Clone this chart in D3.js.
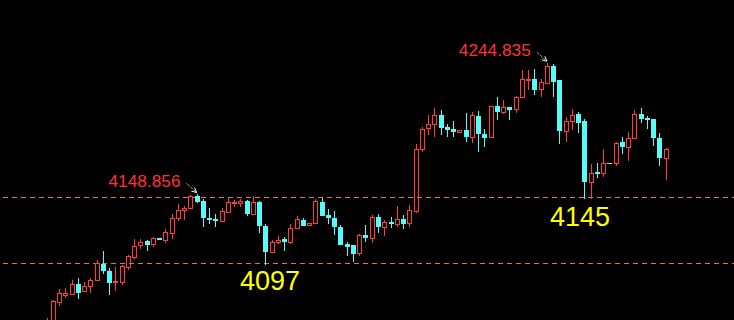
<!DOCTYPE html>
<html>
<head>
<meta charset="utf-8">
<script src="https://cdn.jsdelivr.net/npm/d3@7"></script>
<style>
  html, body { margin: 0; padding: 0; background: #000; }
  svg { display: block; }
</style>
</head>
<body>
<div id="chart"></div>
<script>
// candle data, one entry per bar
const opens = [
  4052, 4049.5, 4070.2, 4075.4, 4076.0, 4082.9, 4077.8, 4081.9, 4086.0, 4097.9,
  4092.6, 4084.4, 4084.8, 4095.8, 4102.8, 4111.4, 4114.5, 4112.1, 4116.5, 4115.5,
  4120.2, 4131.1, 4137.0, 4138.4, 4147.4, 4143.8, 4131.1, 4130.6, 4129.4, 4136.0,
  4142.1, 4142.5, 4143.8, 4134.3, 4143.0, 4125.5, 4106.7, 4113.6, 4115.8, 4114.0,
  4123.8, 4129.9, 4126.0, 4127.5, 4143.0, 4133.5, 4131.1, 4124.6, 4112.3, 4111.6,
  4105.6, 4118.9, 4117.0, 4131.9, 4125.0, 4128.6, 4126.7, 4130.4, 4127.5, 4136.7,
  4181.5, 4196.9, 4199.8, 4206.6, 4197.8, 4196.4, 4194.4, 4195.7, 4190.8, 4205.9,
  4192.7, 4190.3, 4213.2, 4209.0, 4212.7, 4210.8, 4220.0, 4232.4, 4232.7, 4225.8,
  4230.2, 4242.4, 4232.2, 4195.1, 4202.5, 4207.3, 4202.2, 4157.9, 4164.7, 4164.0,
  4171.4, 4171.3, 4187.1, 4183.4, 4190.0, 4207.3, 4204.2, 4203.5, 4189.6, 4175.4
];
const highs = [
  4058.3, 4071.4, 4079.5, 4080.2, 4086.0, 4087.5, 4084.4, 4087.7, 4100.4, 4107.2,
  4094.6, 4095.5, 4097.0, 4104.1, 4116.2, 4115.8, 4115.3, 4117.2, 4116.5, 4123.3,
  4134.1, 4141.6, 4140.1, 4148.5, 4148.856, 4145.0, 4138.9, 4134.1, 4138.9, 4146.2,
  4144.5, 4145.0, 4144.5, 4147.4, 4143.8, 4127.0, 4115.3, 4118.4, 4117.7, 4126.7,
  4132.8, 4131.1, 4127.5, 4145.2, 4146.2, 4137.9, 4136.5, 4126.2, 4114.0, 4111.7,
  4119.7, 4126.2, 4133.5, 4134.3, 4129.9, 4131.9, 4140.1, 4133.5, 4140.8, 4185.4,
  4197.6, 4206.6, 4211.5, 4210.3, 4200.0, 4202.2, 4195.7, 4207.9, 4209.0, 4209.5,
  4196.2, 4213.4, 4220.0, 4217.6, 4212.8, 4220.5, 4239.5, 4239.5, 4240.0, 4232.7,
  4244.835, 4243.9, 4232.3, 4204.9, 4210.8, 4209.0, 4203.7, 4170.6, 4171.5, 4181.5,
  4171.4, 4187.1, 4190.5, 4194.4, 4210.3, 4211.5, 4205.9, 4203.6, 4193.2, 4182.3
];
const lows = [
  4048, 4047, 4067.4, 4073.1, 4075.8, 4072.4, 4077.6, 4076.3, 4085.1, 4090.6,
  4075.1, 4078.2, 4082.4, 4093.3, 4101.6, 4108.5, 4107.5, 4110.4, 4115.5, 4113.1,
  4116.2, 4129.2, 4129.9, 4137.7, 4142.1, 4125.0, 4127.0, 4125.0, 4128.6, 4134.8,
  4139.2, 4139.6, 4132.8, 4134.2, 4120.2, 4097.0, 4106.5, 4112.3, 4107.5, 4112.3,
  4123.1, 4125.5, 4126.0, 4127.4, 4132.9, 4126.7, 4118.9, 4111.5, 4103.6, 4099.4,
  4103.6, 4114.0, 4112.9, 4120.6, 4118.4, 4123.8, 4125.0, 4123.1, 4125.0, 4134.8,
  4179.8, 4192.0, 4190.8, 4192.0, 4190.8, 4190.8, 4194.4, 4187.1, 4186.4, 4179.8,
  4183.4, 4190.1, 4203.0, 4207.1, 4203.0, 4208.3, 4218.8, 4224.9, 4221.2, 4219.5,
  4230.1, 4220.0, 4185.2, 4186.7, 4195.7, 4193.7, 4145.0, 4145.4, 4160.8, 4161.5,
  4171.4, 4169.6, 4178.1, 4173.2, 4188.9, 4201.0, 4196.4, 4184.2, 4169.6, 4159.1
];
const closes = [
  4056.5, 4070.7, 4076.3, 4076.5, 4082.9, 4076.8, 4081.4, 4086.0, 4098.2, 4092.8,
  4084.1, 4085.3, 4096.3, 4103.4, 4110.7, 4113.8, 4111.8, 4116.5, 4115.5, 4120.9,
  4131.1, 4137.0, 4138.4, 4147.4, 4143.3, 4131.6, 4129.9, 4129.4, 4136.5, 4142.8,
  4143.3, 4143.8, 4134.3, 4142.8, 4125.7, 4106.7, 4113.6, 4115.3, 4114.0, 4123.8,
  4130.4, 4125.7, 4127.5, 4143.8, 4133.0, 4131.6, 4124.6, 4111.6, 4110.4, 4105.0,
  4118.7, 4117.0, 4131.9, 4125.0, 4128.2, 4126.7, 4130.4, 4127.0, 4137.2, 4181.8,
  4196.4, 4199.8, 4206.6, 4197.3, 4195.7, 4194.4, 4195.7, 4190.8, 4206.6, 4192.5,
  4190.0, 4213.2, 4209.0, 4212.2, 4210.3, 4219.8, 4232.7, 4232.9, 4224.9, 4230.5,
  4242.4, 4230.9, 4195.1, 4202.2, 4206.6, 4201.0, 4157.9, 4164.0, 4163.7, 4171.3,
  4171.4, 4186.4, 4183.4, 4189.6, 4207.3, 4203.7, 4203.0, 4190.0, 4175.4, 4181.5
];

// horizontal dashed levels
const levels = [4146.7, 4098.5];

// marked highs (small red labels with arrow) and marked lows (big yellow)
const highMarks = [
  { bar: 24, text: "4148.856" },
  { bar: 80, text: "4244.835" }
];
const lowMarks = [
  { bar: 35, text: "4097", dx: -26, dy: 25 },
  { bar: 86, text: "4145", dx: -35, dy: 27 }
];

const W = 734, H = 320;
const UP = "#ff3b3b", DOWN = "#54fcfc", FLAT = "#c8c8c8";

const candles = opens.map((o, i) => ({
  i, o, h: highs[i], l: lows[i], c: closes[i]
}));

const x = d3.scaleLinear().domain([0, candles.length - 1]).range([47, 666.2]);
const y = d3.scaleLinear().domain([4097, 4244.835]).range([265, 62.7]);

const svg = d3.select("#chart").append("svg")
  .attr("width", W)
  .attr("height", H)
  .style("background", "#000");

// dashed lines
svg.append("g").selectAll("line")
  .data(levels)
  .join("line")
  .attr("x1", -6).attr("x2", W)
  .attr("y1", d => Math.round(y(d)) + 0.5)
  .attr("y2", d => Math.round(y(d)) + 0.5)
  .attr("stroke", "#e0802e")
  .attr("stroke-width", 1)
  .attr("stroke-dasharray", "5,4");

const g = svg.append("g");

candles.forEach(d => {
  const left = Math.round(x(d.i) - 2.5);
  const cx = left + 2.5;
  const yt = Math.round(y(Math.max(d.o, d.c)));
  const yb = Math.round(y(Math.min(d.o, d.c)));
  const yh = Math.round(y(d.h));
  const yl = Math.round(y(d.l));
  const col = d.c > d.o ? UP : (d.c < d.o ? DOWN : FLAT);

  if (d.c > d.o && yb - yt >= 2) {
    // hollow up candle, wick not through the body
    if (yh < yt) g.append("line").attr("x1", cx).attr("x2", cx)
      .attr("y1", yh).attr("y2", yt).attr("stroke", col);
    if (yl > yb) g.append("line").attr("x1", cx).attr("x2", cx)
      .attr("y1", yb + 1).attr("y2", yl).attr("stroke", col);
    g.append("rect")
      .attr("x", left + 0.5).attr("y", yt + 0.5)
      .attr("width", 4).attr("height", yb - yt)
      .attr("fill", "none").attr("stroke", col).attr("stroke-width", 1);
  } else {
    if (yl > yh) g.append("line").attr("x1", cx).attr("x2", cx)
      .attr("y1", yh).attr("y2", yl).attr("stroke", col);
    g.append("rect")
      .attr("x", left).attr("y", yt)
      .attr("width", 5).attr("height", Math.max(yb - yt, 1) + (d.c > d.o ? 1 : 0))
      .attr("fill", col);
  }
});

// arrow head
svg.append("defs").append("marker")
  .attr("id", "arr")
  .attr("viewBox", "0 0 10 10")
  .attr("refX", 9).attr("refY", 5)
  .attr("markerWidth", 6).attr("markerHeight", 6)
  .attr("orient", "auto")
  .append("path")
  .attr("d", "M1,1 L9,5 L1,9")
  .attr("fill", "none")
  .attr("stroke", "#fff")
  .attr("stroke-width", 1.5);

highMarks.forEach(m => {
  const cx = x(m.bar);
  const yh = y(highs[m.bar]);
  svg.append("line")
    .attr("x1", cx - 10.5).attr("y1", yh - 10.5)
    .attr("x2", cx - 0.5).attr("y2", yh - 1.5)
    .attr("stroke", "#fff")
    .attr("stroke-width", 1)
    .attr("stroke-dasharray", "1,1")
    .attr("marker-end", "url(#arr)");
  svg.append("text")
    .attr("x", cx - 16.5)
    .attr("y", yh - 6.7)
    .attr("text-anchor", "end")
    .attr("fill", "#ff3333")
    .style("font-family", "'Liberation Sans', Arial, sans-serif")
    .style("font-size", "17.3px")
    .text(m.text);
});

lowMarks.forEach(m => {
  svg.append("text")
    .attr("x", x(m.bar) + m.dx)
    .attr("y", y(lows[m.bar]) + m.dy)
    .attr("fill", "#ffff00")
    .style("font-family", "'Liberation Sans', Arial, sans-serif")
    .style("font-size", "27px")
    .text(m.text);
});
</script>
</body>
</html>
